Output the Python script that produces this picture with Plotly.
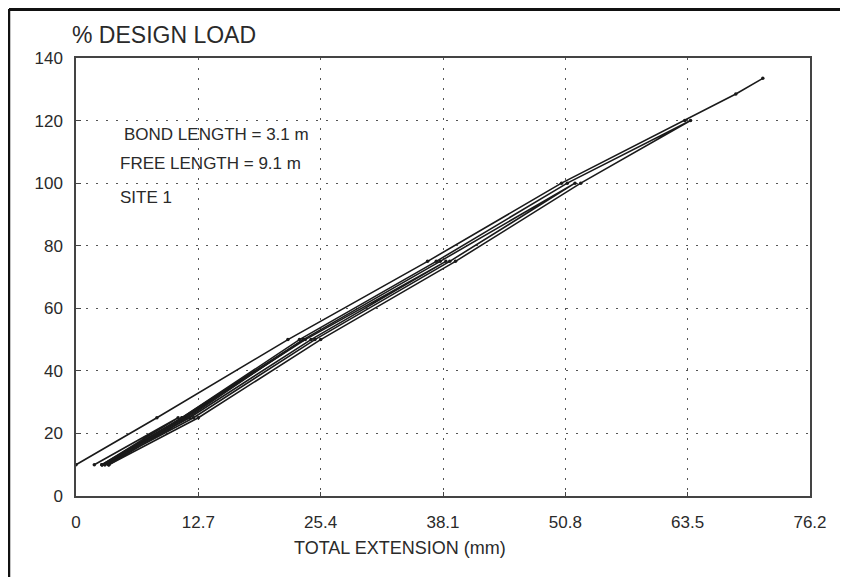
import plotly.graph_objects as go

# ---- data ----
x_ticks = [0, 12.7, 25.4, 38.1, 50.8, 63.5, 76.2]
x_tick_labels = ["0", "12.7", "25.4", "38.1", "50.8", "63.5", "76.2"]
y_ticks = [0, 20, 40, 60, 80, 100, 120, 140]

# load cycles: % design load vs total extension (mm)
cycle1_load = [10, 25, 10]
cycle1_ext = [1.9, 10.6, 2.7]

cycle2_load = [10, 25, 50, 25, 10]
cycle2_ext = [2.7, 11.4, 23.6, 11.0, 2.7]

cycle3_load = [10, 25, 50, 75, 50, 25, 10]
cycle3_ext = [2.7, 11.8, 24.4, 38.4, 23.8, 11.2, 3.0]

cycle4_load = [10, 25, 50, 75, 100, 75, 50, 25, 10]
cycle4_ext = [3.0, 12.2, 24.8, 38.8, 51.8, 37.8, 23.6, 11.6, 3.4]

cycle5_load = [10, 25, 50, 75, 100, 120, 100, 75, 50, 25, 10]
cycle5_ext = [3.4, 12.7, 25.4, 39.4, 52.4, 63.8, 51.0, 37.4, 23.2, 11.0, 3.4]

cycle6_load = [10, 25, 50, 75, 100, 120, 128.5, 133.5]
cycle6_ext = [0, 8.4, 22.0, 36.5, 50.4, 63.2, 68.5, 71.3]

cycles = [
    (cycle1_ext, cycle1_load),
    (cycle2_ext, cycle2_load),
    (cycle3_ext, cycle3_load),
    (cycle4_ext, cycle4_load),
    (cycle5_ext, cycle5_load),
    (cycle6_ext, cycle6_load),
]

info_lines = ["BOND LENGTH = 3.1 m", "FREE LENGTH = 9.1 m", "SITE 1"]
y_title = "% DESIGN LOAD"
x_title = "TOTAL EXTENSION (mm)"

FONT = "Liberation Sans, Arial, sans-serif"
TXT = "#2a2a2a"

fig = go.Figure()
for ext, load in cycles:
    fig.add_trace(go.Scatter(
        x=ext, y=load, mode="lines+markers",
        line=dict(color="#1a1a1a", width=1.6),
        marker=dict(color="#1a1a1a", size=3.5),
        showlegend=False, hoverinfo="x+y",
    ))

# page body has an 8px margin, so the figure is drawn 8px in from the top-left
OFF = 8
W, H = 848 - OFF, 577 - OFF
L, R, T, B = 76 - OFF, 38, 58 - OFF, 81
pw, ph = W - L - R, H - T - B

def px(xp):
    return (xp - OFF - L) / pw

def py(yp):
    return (H + OFF - B - yp) / ph

fig.update_layout(
    width=W, height=H,
    margin=dict(l=L, r=R, t=T, b=B, autoexpand=False),
    paper_bgcolor="white", plot_bgcolor="white",
    font=dict(family=FONT, size=17, color=TXT),
    xaxis=dict(
        range=[0, 76.2], tickvals=x_ticks, ticktext=x_tick_labels,
        showgrid=True, gridcolor="#555", griddash="2px,8px", gridwidth=1.2,
        showline=True, linecolor="#444", linewidth=1.5, mirror=True,
        ticks="inside", ticklen=4, tickcolor="#444",
        zeroline=False, tickfont=dict(size=17, color=TXT), ticklabelstandoff=10,
    ),
    yaxis=dict(
        range=[0, 140], tickvals=y_ticks,
        showgrid=True, gridcolor="#555", griddash="2px,8px", gridwidth=1.2,
        showline=True, linecolor="#444", linewidth=1.5, mirror=True,
        ticks="inside", ticklen=5, tickcolor="#444",
        zeroline=False, tickfont=dict(size=17, color=TXT), ticklabelstandoff=8,
    ),
)

anns = [
    dict(text=y_title, x=px(70), y=py(35), xanchor="left", yanchor="middle", font=dict(size=23)),
    dict(text=x_title, x=px(400), y=py(548), xanchor="center", yanchor="middle", font=dict(size=18)),
    dict(text=info_lines[0], x=px(122), y=py(135), xanchor="left", yanchor="middle", font=dict(size=17)),
    dict(text=info_lines[1], x=px(118), y=py(163), xanchor="left", yanchor="middle", font=dict(size=17)),
    dict(text=info_lines[2], x=px(118), y=py(197), xanchor="left", yanchor="middle", font=dict(size=17)),
]
for a in anns:
    fig.add_annotation(xref="paper", yref="paper", showarrow=False, **a)

# outer frame of the scanned page (left and top edges)
fig.add_shape(type="line", xref="paper", yref="paper",
              x0=px(9), x1=px(9), y0=py(9), y1=py(577), line=dict(color="#111", width=2.5))
fig.add_shape(type="line", xref="paper", yref="paper",
              x0=px(9), x1=px(848), y0=py(9.5), y1=py(9.5), line=dict(color="#111", width=3))

fig.write_html("out.html")
